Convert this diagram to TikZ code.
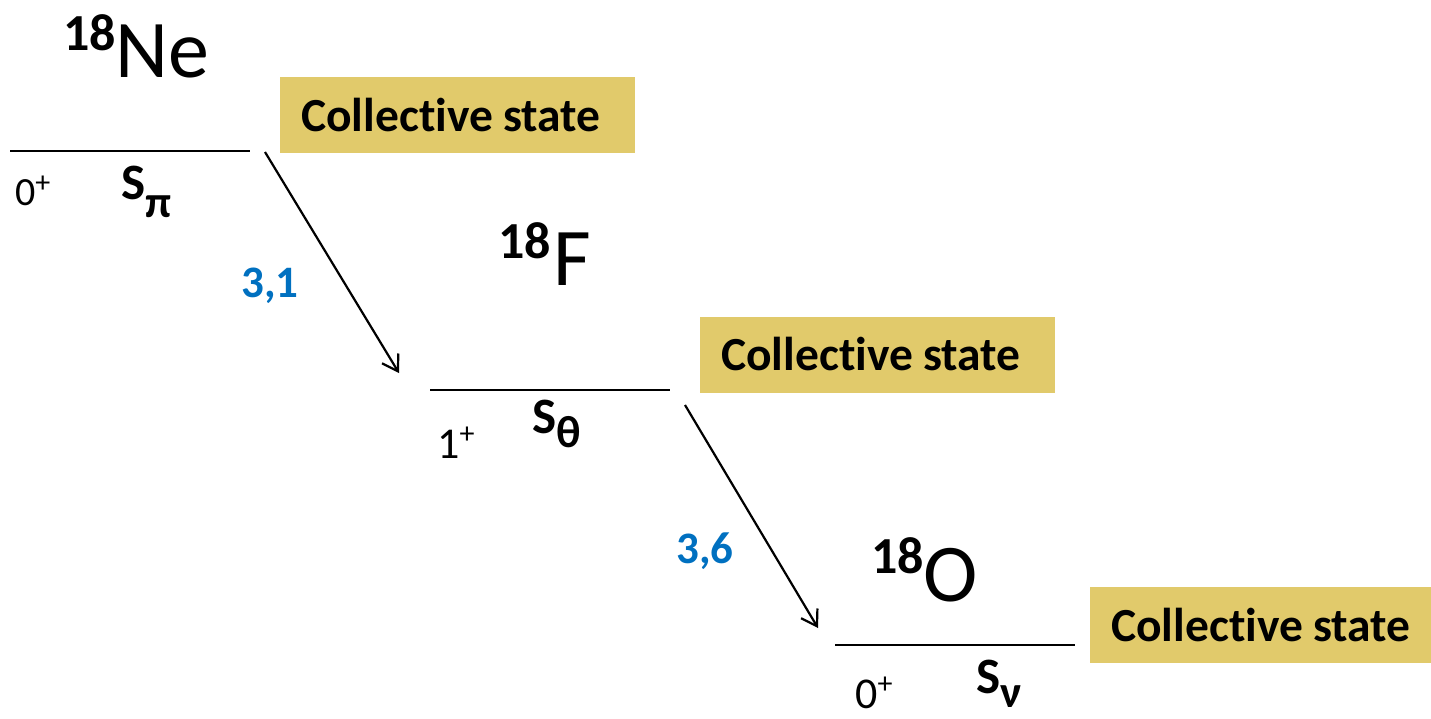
\documentclass[tikz,border=0pt]{standalone}
\usepackage{fontspec}
\setmainfont[RawFeature={-liga;-clig;-calt;-dlig}]{Carlito}
\usetikzlibrary{arrows.meta}
\definecolor{boxgold}{HTML}{E1CA6B}
\definecolor{numblue}{HTML}{0070C0}
\newcommand{\fs}[1]{\fontsize{#1}{#1}\selectfont}
\newcommand{\cstate}{Collect\kern0pt ive\hspace{10pt}state}
\begin{document}
\begin{tikzpicture}[x=1pt,y=-1pt,
  level/.style={line width=2pt},
  statebox/.style={fill=boxgold, anchor=west, inner xsep=21pt, inner ysep=0pt,
    minimum height=76pt, text width=313pt, align=left,
    font=\fs{47.5}\bfseries},
  nucl/.style={anchor=base west, inner sep=0pt},
  spin/.style={anchor=base west, inner sep=0pt},
  slabel/.style={anchor=base west, inner sep=0pt, font=\bfseries},
  rate/.style={anchor=base west, inner sep=0pt, text=numblue, font=\fs{45}\bfseries},
  transition/.style={line width=2.2pt, -{Straight Barb[length=15pt,width=19pt]}}]
\useasboundingbox (0,0) rectangle (1431,718);

% levels
\coordinate (l1w) at (10,151);  \coordinate (l1e) at (250,151);
\coordinate (l2w) at (430,390); \coordinate (l2e) at (670,390);
\coordinate (l3w) at (835,645); \coordinate (l3e) at (1075,645);
\draw[level] (l1w) -- (l1e);
\draw[level] (l2w) -- (l2e);
\draw[level] (l3w) -- (l3e);

% nuclei
\node[nucl] (ne) at (63,77) {\raisebox{27pt}{\fs{52}\bfseries 18}\fs{82}Ne};
\node[nucl] (f) at (498,285) {\raisebox{27pt}{\fs{52}\bfseries 18}\hspace{3pt}\fs{82}F};
\node[nucl] (o) at (871,601) {\raisebox{28pt}{\fs{52}\bfseries 18}\fs{82}O};

% collective state boxes
\node[statebox] (b1) at (280,115) {\cstate};
\node[statebox] (b2) at (700,354.5) {\cstate};
\node[statebox] (b3) at (1090,625) {\cstate};

% spins
\node[spin] (j1) at (15,205) {\fs{40}0\raisebox{13pt}{\fs{30}+}};
\node[spin] (j2) at (437,458) {\fs{44}1\raisebox{15pt}{\fs{30}+}};
\node[spin] (j3) at (855,708) {\fs{44}0\raisebox{15pt}{\fs{30}+}};

% S labels
\node[slabel] (s1) at (121,199) {\fs{51}S\raisebox{-18pt}{\fs{45}π}};
\node[slabel] (s2) at (532,433) {\fs{51}S\raisebox{-14pt}{\fs{45}θ}};
\node[slabel] (s3) at (976,693) {\fs{51}S\raisebox{-14pt}{\fs{45}ν}};

% transitions
\coordinate (t1s) at (265,152); \coordinate (t1e) at (399,373);
\coordinate (t2s) at (685,405); \coordinate (t2e) at (818,628);
\draw[transition] (t1s) -- (t1e);
\draw[transition] (t2s) -- (t2e);

% rates
\node[rate] (r1) at (241,297) {3,1};
\node[rate] (r2) at (676,563) {3,6};
\end{tikzpicture}
\end{document}
